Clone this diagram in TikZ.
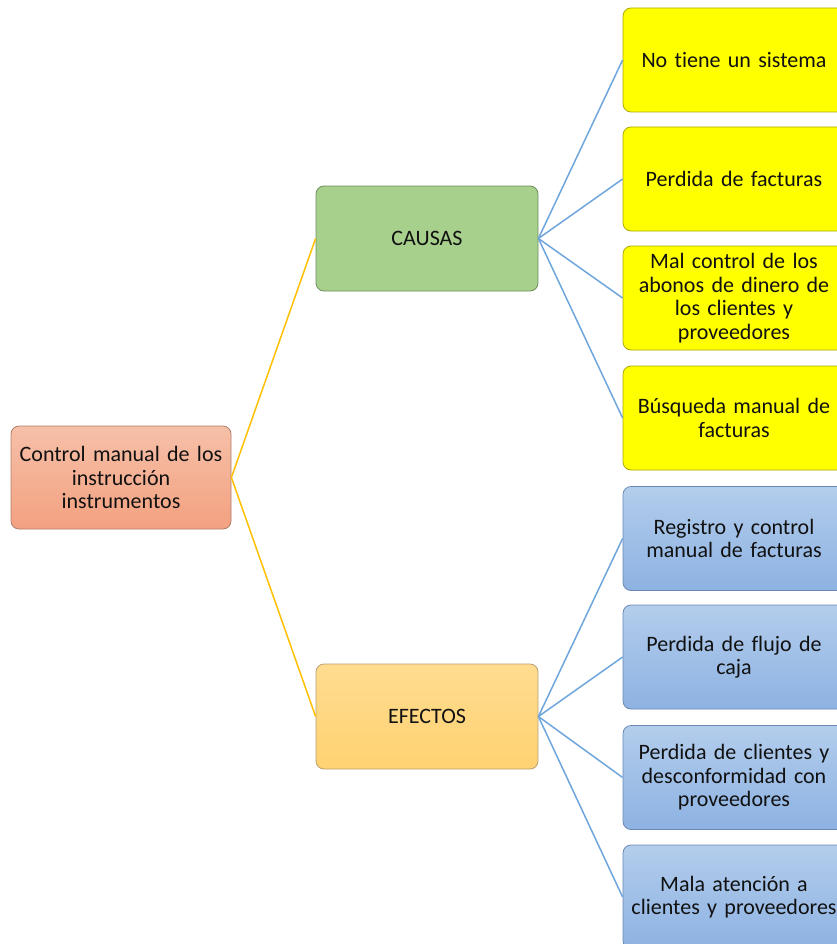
\documentclass[tikz,border=0pt]{standalone}
\usepackage{fontspec}
\setmainfont{Carlito}[Ligatures=NoCommon]
\definecolor{txt}{HTML}{111111}
\definecolor{mainTop}{HTML}{F6C0A8}
\definecolor{mainBot}{HTML}{F3A180}
\definecolor{mainBorder}{HTML}{B07E6C}
\definecolor{greenFill}{HTML}{A8D08D}
\definecolor{greenBorder}{HTML}{6E8E5C}
\definecolor{goldTop}{HTML}{FFDC90}
\definecolor{goldBot}{HTML}{FFD272}
\definecolor{goldBorder}{HTML}{B8A070}
\definecolor{yel}{HTML}{FFFF00}
\definecolor{yelBorder}{HTML}{A8A800}
\definecolor{blueTop}{HTML}{B3CDEC}
\definecolor{blueBot}{HTML}{8DB2E2}
\definecolor{blueBorder}{HTML}{6B88B4}
\definecolor{lineYel}{HTML}{FFC000}
\definecolor{lineBlue}{HTML}{6FA6DC}
\begin{document}
\begin{tikzpicture}[x=1pt,y=-1pt,
  box/.style={rectangle, rounded corners=8pt, line width=0.8pt, inner sep=0pt,
    align=center, text=txt, font=\fontsize{22}{23.5}\selectfont},
  rootbox/.style={box, draw=mainBorder, top color=mainTop, bottom color=mainBot,
    minimum width=220pt, minimum height=103pt, text width=216pt},
  causebox/.style={box, draw=greenBorder, fill=greenFill,
    minimum width=222pt, minimum height=105pt, text width=216pt},
  effectbox/.style={box, draw=goldBorder, top color=goldTop, bottom color=goldBot,
    minimum width=222pt, minimum height=105pt, text width=216pt},
  yelbox/.style={box, draw=yelBorder, fill=yel,
    minimum width=222pt, minimum height=104pt, text width=222pt},
  bluebox/.style={box, draw=blueBorder, top color=blueTop, bottom color=blueBot,
    minimum width=222pt, minimum height=104pt, text width=222pt},
  ylink/.style={draw=lineYel, line width=1.5pt},
  blink/.style={draw=lineBlue, line width=1.5pt}
]
\clip (0,0) rectangle (837,944);
\fill[white] (0,0) rectangle (837,944);

\node[rootbox] (root) at (121,477.5) {Control manual de los\\instrucción\\instrumentos};
\node[causebox] (causas) at (427,238.5) {CAUSAS};
\node[effectbox] (efectos) at (427,716.5) {EFECTOS};

\node[yelbox] (c1) at (734,60) {No tiene un sistema};
\node[yelbox] (c2) at (734,179) {Perdida de facturas};
\node[yelbox] (c3) at (734,298) {Mal control de los\\abonos de dinero de\\los clientes y\\proveedores};
\node[yelbox] (c4) at (734,418) {Búsqueda manual de\\facturas};

\node[bluebox] (e1) at (734,538.5) {Registro y control\\manual de facturas};
\node[bluebox] (e2) at (734,657) {Perdida de flujo de\\caja};
\node[bluebox] (e3) at (734,777.5) {Perdida de clientes y\\desconformidad con\\proveedores};
\node[bluebox] (e4) at (734,897) {Mala atención a\\clientes y proveedores};

\draw[ylink] (root.east) -- (causas.west);
\draw[ylink] (root.east) -- (efectos.west);
\foreach \n in {c1,c2,c3,c4} \draw[blink] (causas.east) -- (\n.west);
\foreach \n in {e1,e2,e3,e4} \draw[blink] (efectos.east) -- (\n.west);
\end{tikzpicture}
\end{document}
